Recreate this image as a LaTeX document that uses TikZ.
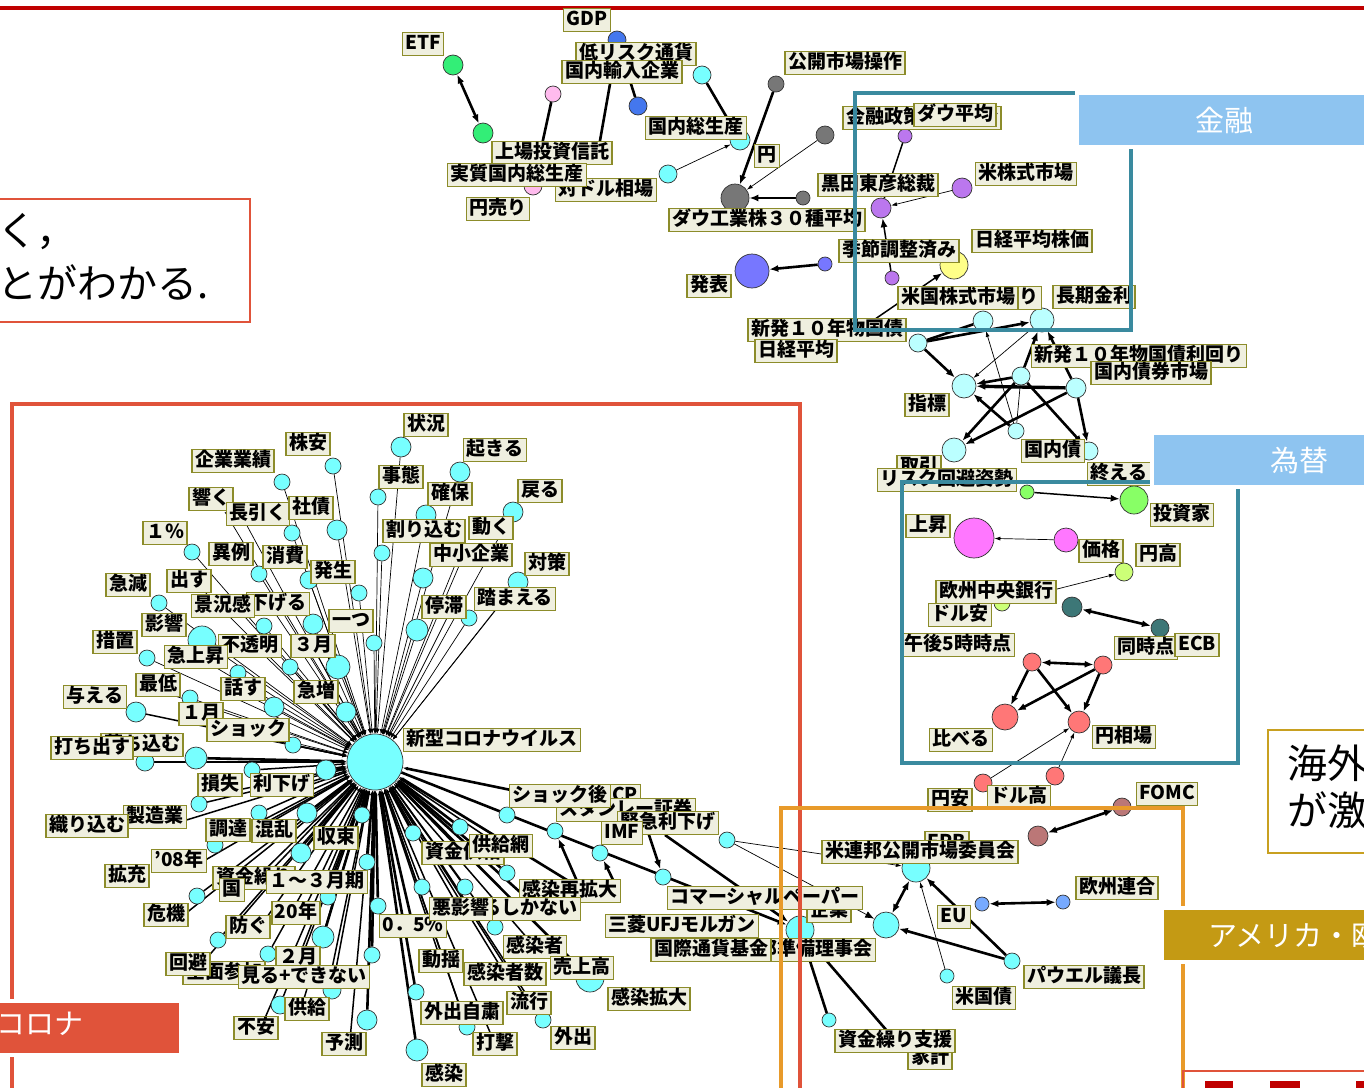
\documentclass[tikz,border=0pt]{standalone}
\usepackage{fontspec}
\setmainfont{Noto Sans CJK JP}
\usetikzlibrary{arrows.meta,backgrounds}
\definecolor{labbg}{HTML}{EFEFDF}
\definecolor{labbd}{HTML}{8C8C2A}
\definecolor{ndl}{HTML}{333333}
\definecolor{cyA}{HTML}{77FFFF}
\definecolor{cyL}{HTML}{BBFFFF}
\definecolor{grN}{HTML}{33EE77}
\definecolor{pkN}{HTML}{FFBBEE}
\definecolor{blN}{HTML}{4477EE}
\definecolor{gyN}{HTML}{777777}
\definecolor{puN}{HTML}{BB77EE}
\definecolor{yeN}{HTML}{FFFF88}
\definecolor{bpN}{HTML}{7777FF}
\definecolor{lgN}{HTML}{88FF66}
\definecolor{mgN}{HTML}{FF77FF}
\definecolor{ygN}{HTML}{CCFF77}
\definecolor{tlN}{HTML}{3D7777}
\definecolor{saN}{HTML}{FF7777}
\definecolor{brN}{HTML}{BB7777}
\definecolor{euN}{HTML}{77AAFF}
\definecolor{corona}{HTML}{E0533A}
\definecolor{fin}{HTML}{3A8A9F}
\definecolor{finlab}{HTML}{8EC4F0}
\definecolor{usa}{HTML}{E89A2A}
\definecolor{usalab}{HTML}{C49A14}
\definecolor{goldb}{HTML}{C8A020}
\definecolor{topred}{HTML}{C00000}
\newcommand\labfont{\fontsize{19}{19}\selectfont\bfseries}
\newcommand\bigfont{\fontsize{40}{40}\selectfont}
\newcommand\tagfont{\fontsize{29}{29}\selectfont}
\tikzset{
 lab/.style={fill=labbg, draw=labbd, line width=1.2pt, font=\labfont, inner xsep=3pt, inner ysep=2pt, text height=15pt, text depth=4pt},
 nd/.style={circle, draw=ndl, line width=0.7pt, inner sep=0pt},
 ncy/.style={nd, fill=cyA, minimum size=#1},
 nlc/.style={nd, fill=cyL, minimum size=#1},
 ngr/.style={nd, fill=grN, minimum size=#1},
 npk/.style={nd, fill=pkN, minimum size=#1},
 nbl/.style={nd, fill=blN, minimum size=#1},
 ngy/.style={nd, fill=gyN, minimum size=#1},
 npu/.style={nd, fill=puN, minimum size=#1},
 nye/.style={nd, fill=yeN, minimum size=#1},
 nbp/.style={nd, fill=bpN, minimum size=#1},
 nlg/.style={nd, fill=lgN, minimum size=#1},
 nmg/.style={nd, fill=mgN, minimum size=#1},
 nyg/.style={nd, fill=ygN, minimum size=#1},
 ntl/.style={nd, fill=tlN, minimum size=#1},
 nsa/.style={nd, fill=saN, minimum size=#1},
 nbr/.style={nd, fill=brN, minimum size=#1},
 neu/.style={nd, fill=euN, minimum size=#1},
 thn/.style={line width=0.7pt},
 med/.style={line width=1.5pt},
 thk/.style={line width=2.6pt},
 ahead/.style={-{Latex[length=9pt,width=7pt]}},
 bihead/.style={{Latex[length=9pt,width=7pt]}-{Latex[length=9pt,width=7pt]}},
 thead/.style={-{Latex[length=6pt,width=4pt]}},
 sarr/.style={-{Latex[length=5pt,width=4pt]}},
 tagbox/.style={draw=white, line width=4pt, minimum width=294pt, minimum height=54pt, anchor=north west, inner sep=0pt, font=\tagfont, text=white},
}
\begin{document}
\begin{tikzpicture}[x=1pt,y=-1pt]
\useasboundingbox (0,0) rectangle (1364,1087);
\clip (0,0) rectangle (1364,1087);
\begin{scope}[on background layer]
\fill[white] (0,0) rectangle (1364,1087);
\end{scope}
\draw[topred, line width=4pt] (0,8) -- (1364,8);
% top-left text box
\draw[corona, line width=2pt] (-5,199) rectangle (250,322);
\node[anchor=west, font=\bigfont, inner sep=0pt] (txA) at (-3,232) {く，};
\node[anchor=west, font=\bigfont, inner sep=0pt] (txB) at (-3,282) {とがわかる.};

% ---------- top cluster nodes ----------
\node[ngr=20pt] (tEtf) at (453,65) {};
\node[ngr=20pt] (tG2) at (483,133) {};
\node[npk=16pt] (tP1) at (553,94) {};
\node[npk=18pt] (tP2) at (533,186) {};
\node[nbl=18pt] (tB1) at (617,40) {};
\node[nbl=18pt] (tB2) at (638,106) {};
\node[ncy=18pt] (tC1) at (702,75) {};
\node[ncy=20pt] (tC2) at (740,140) {};
\node[ncy=18pt] (tC3) at (668,174) {};
\node[ngy=16pt] (g1) at (776,84) {};
\node[ngy=18pt] (g2) at (825,135) {};
\node[ngy=14pt] (g3) at (803,198) {};
\node[ngy=28pt] (gB) at (735,198) {};
\node[npu=14pt] (pu1) at (905,136) {};
\node[npu=20pt] (pu2) at (881,208) {};
\node[npu=20pt] (pu3) at (962,188) {};
\node[npu=14pt] (pu4) at (892,278) {};
\node[nye=28pt] (y1) at (954,265) {};
\node[nbp=34pt] (bp1) at (752,271) {};
\node[nbp=14pt] (bp2) at (825,264) {};
\coordinate (h1) at (610,84);
\coordinate (h2) at (598,152);
\coordinate (hS) at (862,328);
% light cyan cluster
\node[nlc=18pt] (lA) at (918,343) {};
\node[nlc=20pt] (lB) at (983,321) {};
\node[nlc=24pt] (lC) at (1042,320) {};
\node[nlc=24pt] (lD) at (964,386) {};
\node[nlc=18pt] (lE) at (1021,376) {};
\node[nlc=20pt] (lF) at (1076,388) {};
\node[nlc=16pt] (lG) at (1016,431) {};
\node[nlc=24pt] (lH) at (954,450) {};
\node[nlc=18pt] (lI) at (1089,451) {};
% exchange cluster
\node[nlg=14pt] (lg1) at (1027,492) {};
\node[nlg=28pt] (lg2) at (1134,500) {};
\node[nmg=24pt] (m1) at (1066,540) {};
\node[nmg=40pt] (m2) at (974,538) {};
\node[nyg=18pt] (yg1) at (1124,572) {};
\node[nyg=16pt] (yg2) at (1002,603) {};
\node[ntl=20pt] (tl1) at (1072,607) {};
\node[ntl=18pt] (tl2) at (1160,628) {};
\node[nsa=18pt] (sP1) at (1032,662) {};
\node[nsa=18pt] (sP2) at (1103,665) {};
\node[nsa=26pt] (sP3) at (1005,717) {};
\node[nsa=22pt] (sP4) at (1079,722) {};
\node[nsa=18pt] (s5) at (983,783) {};
\node[nsa=18pt] (s6) at (1055,776) {};
\node[nbr=18pt] (br1) at (1122,807) {};
\node[nbr=20pt] (br2) at (1038,836) {};
% america cluster
\node[ncy=28pt] (U1) at (916,868) {};
\node[ncy=26pt] (U2) at (886,925) {};
\node[neu=14pt] (eu1) at (982,904) {};
\node[neu=14pt] (eu2) at (1063,902) {};
\node[ncy=16pt] (pw) at (1012,961) {};
\node[ncy=14pt] (us) at (947,976) {};
\node[ncy=28pt] (ki) at (800,930) {};
\node[ncy=14pt] (sk) at (829,1020) {};
\node[ncy=16pt] (c69) at (727,840) {};
\coordinate (hKakei) at (888,1032);
\coordinate (hImf) at (665,835);
\coordinate (hSai) at (580,888);
\coordinate (hSai2) at (617,888);
\coordinate (hImf2) at (648,832);

% ---------- corona cluster nodes ----------
\node[ncy=56pt] (Cn) at (375,762) {};
\foreach \n/\x/\y/\d in {c1/333/466/16, c2/282/482/16, c3/337/530/20, c4/292/533/16, c5/192/552/16,
 c6/259/574/16, c7/309/580/18, c8/359/593/16, c9/159/603/16, c10/313/624/20, c11/264/626/16,
 c12/202/640/28, c13/374/643/16, c14/147/658/16, c15/290/667/16, c16/338/667/24, c17/238/673/16,
 c18/190/698/16, c19/136/712/20, c20/274/707/20, c21/346/712/20, c22/293/745/16, c23/145/762/18,
 c24/196/758/22, c25/252/770/16, c26/326/770/20, c27/199/804/16, c28/259/813/16, c29/307/813/20,
 c30/362/815/16, c31/215/845/16, c32/301/853/20, c33/367/862/16, c34/197/896/16, c35/328/897/16,
 c36/378/906/16, c37/323/937/22, c38/218/940/16, c39/268/954/16, c40/372/955/16, c41/280/1005/18,
 c42/332/990/18, c43/367/1020/20, c44/417/1050/22, c45/416/992/16, c46/467/1027/16, c47/413/833/16,
 c48/460/827/16, c49/507/815/16, c50/555/831/16, c51/600/853/16, c52/663/877/16, c53/507/873/16,
 c54/422/887/16, c55/465/887/16, c56/495/927/16, c57/590/978/28, c58/543/1020/16,
 c59/401/447/20, c60/460/472/20, c61/378/497/16, c62/426/515/20, c63/513/512/20, c64/382/553/16,
 c65/423/578/20, c66/518/582/20, c67/469/618/16, c68/417/630/22}
 {\node[ncy=\d pt] (\n) at (\x,\y) {};}
\foreach \n/\x/\y in {k1/225/512, k2/245/522, k3/205/592, k4/245/617, k5/275/613, k6/265/656,
 k7/215/667, k8/175/696, k9/255/699, k10/215/724, k11/265/740, k12/325/701, k13/318/656,
 k14/455/565, k15/468/545, k16/448/616, k17/500/604, k18/228/792, k19/290/792, k20/180/822,
 k21/238/838, k22/285/838, k23/345/843, k24/195/866, k25/262/880, k26/238/896, k27/330/886,
 k28/180/918, k29/300/918, k30/258/930, k31/200/966, k32/300/962, k33/330/978, k34/300/1012,
 k35/262/1025, k36/350/1040, k37/545/797, k38/500/846, k39/463/853, k40/580/888, k41/540/910,
 k42/460/910, k43/535/947, k44/505/974, k45/529/1003, k46/462/1013, k47/495/1044, k48/441/961,
 k50/413/926}
 {\coordinate (\n) at (\x,\y);}

% ---------- edges ----------
\begin{scope}[on background layer]
\draw[thk, bihead] (tEtf) -- (tG2);
\draw[thk] (tP1) -- (tP2);
\draw[thk] (tB1) -- (tB2);
\draw[thk] (h1) -- (h2);
\draw[thk] (tC1) -- (tC2);
\draw[thn, thead] (tC3) -- (tC2);
\draw[thk, ahead] (g1) -- (gB);
\draw[thn, thead] (g2) -- (gB);
\draw[thk, ahead] (g3) -- (gB);
\draw[med] (pu1) -- (pu2);
\draw[thn, thead] (pu3) -- (pu2);
\draw[med, ahead] (pu4) -- (pu2);
\draw[thk, ahead] (bp2) -- (bp1);
\draw[med, ahead] (hS) -- (y1);
% light cyan
\draw[thk] (lA) -- (lB);
\draw[thk, ahead] (lA) -- (lC);
\draw[thk, ahead] (lA) -- (lD);
\draw[thn, thead] (lG) -- (lB);
\draw[thn] (lG) -- (lE);
\draw[thn, thead] (lC) -- (lD);
\draw[thk, ahead] (lE) -- (lC);
\draw[thk, ahead] (lF) -- (lC);
\draw[line width=3.4pt, ahead] (lF) -- (lD);
\draw[thk, ahead] (lE) -- (lD);
\draw[thk, ahead] (lE) -- (lH);
\draw[thk, ahead] (lF) -- (lH);
\draw[thk, ahead] (lG) -- (lD);
\draw[thk, ahead] (lE) -- (lI);
\draw[thk, ahead] (lF) -- (lI);
% exchange
\draw[med, ahead] (lg1) -- (lg2);
\draw[thn, thead] (m1) -- (m2);
\draw[thn, thead] (yg2) -- (yg1);
\draw[thk, bihead] (tl1) -- (tl2);
\draw[thk, bihead] (sP1) -- (sP2);
\draw[thk, ahead] (sP1) -- (sP3);
\draw[thk, ahead] (sP1) -- (sP4);
\draw[thk, ahead] (sP2) -- (sP3);
\draw[thk, ahead] (sP2) -- (sP4);
\draw[thn, thead] (s5) -- (sP4);
\draw[thn, thead] (s6) -- (sP4);
\draw[thk, bihead] (br1) -- (br2);
% america
\draw[thk, bihead] (eu1) -- (eu2);
\draw[thk, ahead] (pw) -- (U1);
\draw[thk, ahead] (pw) -- (U2);
\draw[thn, thead] (us) -- (U1);
\draw[thk, bihead] (U2) -- (U1);
\draw[thn, thead] (c69) -- (U1);
\draw[thn, ahead] (c69) -- (U2);
\draw[thk] (ki) -- (sk);
\draw[thk] (ki) -- (hKakei);
\draw[thk, ahead] (Cn) -- (ki);
\draw[thk, ahead] (hImf) -- (ki);
\draw[thk, ahead] (hSai) -- (c50);
\draw[thk, ahead] (hSai2) -- (c51);
\draw[thk, ahead] (hImf2) -- (c52);
% corona spokes
\foreach \n in {c1,c2,c3,c4,c5,c6,c7,c8,c9,c10,c11,c12,c13,c14,c15,c16,c17,c18,c20,c21,
 c59,c60,c61,c62,c63,c64,c65,c66,c67,c68,k1,k2,k3,k4,k5,k6,k7,k8,k9,k10,k11,k12,k13,k14,k15,k16,k17}
 {\draw[thn, sarr] (\n) -- (Cn);}
\foreach \n in {c19,c22,c25,c27,c28,c31,c34,c35,c38,c39,c41,c42,c46,c54,c55,c56,c58,
 k18,k19,k20,k21,k22,k23,k24,k25,k26,k27,k28,k29,k30,k31,k32,k33,k34,k35,k36,k38,k39,k42,k43,k44,k45,k46,k47,k48}
 {\draw[med, sarr] (\n) -- (Cn);}
\foreach \n in {c23,c24,c26,c29,c30,c32,c33,c36,c37,c40,c43,c44,c45,c47,c48,c53,c57,k37,k40,k41,k50}
 {\draw[thk, sarr] (\n) -- (Cn);}
\end{scope}

% ---------- labels: top ----------
\node[lab] (L01) at (423,44) {ETF};
\node[lab] (L02) at (587,20) {GDP};
\node[lab] (L03) at (636,54) {低リスク通貨};
\node[lab] (L04) at (622,72) {国内輸入企業};
\node[lab] (L05) at (696,128) {国内総生産};
\node[lab] (L06) at (606,190) {対ドル相場};
\node[lab] (L07) at (552,153) {上場投資信託};
\node[lab] (L08) at (517,175) {実質国内総生産};
\node[lab] (L09) at (498,209) {円売り};
\node[lab] (L10) at (767,156) {円};
\node[lab] (L11) at (845,63) {公開市場操作};
\node[lab] (L12) at (922,118) {金融政策決定会合};
\node[lab] (L13) at (955,115) {ダウ平均};
\node[lab] (L14) at (878,185) {黒田東彦総裁};
\node[lab] (L15) at (1026,174) {米株式市場};
\node[lab] (L16) at (767,220) {ダウ工業株３０種平均};
\node[lab] (L17) at (899,251) {季節調整済み};
\node[lab] (L18) at (1032,241) {日経平均株価};
\node[lab] (L19) at (709,286) {発表};
\node[lab] (L20) at (1010,298) {利回り};
\node[lab] (L21) at (958,298) {米国株式市場};
\node[lab] (L22) at (1094,297) {長期金利};
\node[lab] (L23) at (827,330) {新発１０年物国債};
\node[lab] (L24) at (796,351) {日経平均};
\node[lab] (L25) at (1139,356) {新発１０年物国債利回り};
\node[lab] (L26) at (1151,373) {国内債券市場};
\node[lab] (L27) at (927,405) {指標};
\node[lab] (L28) at (1053,451) {国内債};
\node[lab] (L29) at (919,467) {取引};
\node[lab] (L30) at (947,480) {リスク回避姿勢};
\node[lab] (L31) at (1119,474) {終える};
% exchange labels
\node[lab] (L32) at (1182,515) {投資家};
\node[lab] (L33) at (928,526) {上昇};
\node[lab] (L34) at (1101,551) {価格};
\node[lab] (L35) at (1158,555) {円高};
\node[lab] (L36) at (996,592) {欧州中央銀行};
\node[lab] (L37) at (960,615) {ドル安};
\node[lab] (L38) at (1146,648) {同時点};
\node[lab] (L39) at (1197,645) {ECB};
\node[lab] (L40) at (958,645) {午後5時時点};
\node[lab] (L41) at (961,740) {比べる};
\node[lab] (L42) at (1124,737) {円相場};
\node[lab] (L43) at (950,800) {円安};
\node[lab] (L44) at (1019,797) {ドル高};
\node[lab] (L45) at (1167,794) {FOMC};
% america labels
\node[lab] (L46) at (947,843) {FRB};
\node[lab] (L47) at (920,852) {米連邦公開市場委員会};
\node[lab] (L48) at (829,911) {企業};
\node[lab] (L49) at (765,898) {コマーシャルペーパー};
\node[lab] (L50) at (682,926) {三菱UFJモルガン};
\node[lab] (L51) at (806,950) {連邦準備理事会};
\node[lab] (L52) at (711,950) {国際通貨基金};
\node[lab] (L53) at (1117,888) {欧州連合};
\node[lab] (L54) at (954,917) {EU};
\node[lab] (L55) at (1084,977) {パウエル議長};
\node[lab] (L56) at (984,998) {米国債};
\node[lab] (L57) at (930,1058) {家計};
\node[lab] (L58) at (895,1041) {資金繰り支援};
% corona labels
\node[lab] (M01) at (308,444) {株安};
\node[lab] (M02) at (426,425) {状況};
\node[lab] (M03) at (495,450) {起きる};
\node[lab] (M04) at (233,461) {企業業績};
\node[lab] (M05) at (401,477) {事態};
\node[lab] (M06) at (540,491) {戻る};
\node[lab] (M07) at (450,494) {確保};
\node[lab] (M08) at (211,499) {響く};
\node[lab] (M09) at (258,514) {長引く};
\node[lab] (M10) at (311,508) {社債};
\node[lab] (M11) at (424,531) {割り込む};
\node[lab] (M12) at (491,528) {動く};
\node[lab] (M13) at (165,533) {１％};
\node[lab] (M14) at (231,554) {異例};
\node[lab] (M15) at (285,557) {消費};
\node[lab] (M16) at (471,555) {中小企業};
\node[lab] (M17) at (547,564) {対策};
\node[lab] (M18) at (333,572) {発生};
\node[lab] (M19) at (189,581) {出す};
\node[lab] (M20) at (128,585) {急減};
\node[lab] (M21) at (278,604) {下げる};
\node[lab] (M22) at (223,606) {景況感};
\node[lab] (M23) at (515,599) {踏まえる};
\node[lab] (M24) at (444,607) {停滞};
\node[lab] (M25) at (351,621) {一つ};
\node[lab] (M26) at (164,625) {影響};
\node[lab] (M27) at (115,642) {措置};
\node[lab] (M28) at (250,646) {不透明};
\node[lab] (M29) at (313,646) {３月};
\node[lab] (M30) at (196,657) {急上昇};
\node[lab] (M31) at (158,685) {最低};
\node[lab] (M32) at (243,689) {話す};
\node[lab] (M33) at (316,692) {急増};
\node[lab] (M34) at (95,697) {与える};
\node[lab] (M35) at (201,714) {１月};
\node[lab] (M36) at (248,730) {ショック};
\node[lab] (M37) at (492,740) {新型コロナウイルス};
\node[lab] (M38) at (142,745) {落ち込む};
\node[lab] (M39) at (92,748) {打ち出す};
\node[lab] (M40) at (220,785) {損失};
\node[lab] (M41) at (282,785) {利下げ};
\node[lab] (M42) at (155,817) {製造業};
\node[lab] (M43) at (87,826) {織り込む};
\node[lab] (M44) at (228,830) {調達};
\node[lab] (M45) at (274,831) {混乱};
\node[lab] (M46) at (336,838) {収束};
\node[lab] (M47) at (179,861) {’08年};
\node[lab] (M48) at (127,876) {拡充};
\node[lab] (M49) at (254,878) {資金繰り};
\node[lab] (M50) at (232,890) {国};
\node[lab] (M51) at (317,882) {１～３月期};
\node[lab] (M52) at (166,915) {危機};
\node[lab] (M53) at (296,913) {20年};
\node[lab] (M54) at (248,927) {防ぐ};
\node[lab] (M55) at (413,926) {0．5\%};
\node[lab] (M56) at (298,958) {２月};
\node[lab] (M57) at (224,973) {全面参加};
\node[lab] (M58) at (188,964) {回避};
\node[lab] (M59) at (304,977) {見る+できない};
\node[lab] (M60) at (307,1009) {供給};
\node[lab] (M61) at (256,1028) {不安};
\node[lab] (M62) at (344,1044) {予測};
\node[lab] (M63) at (444,1075) {感染};
\node[lab] (M64) at (463,853) {資金供給};
\node[lab] (M65) at (501,846) {供給網};
\node[lab] (M66) at (625,796) {CP};
\node[lab] (M67) at (626,810) {スタンレー証券};
\node[lab] (M68) at (560,796) {ショック後};
\node[lab] (M69) at (668,823) {緊急利下げ};
\node[lab] (M70) at (622,833) {IMF};
\node[lab] (M71) at (570,891) {感染再拡大};
\node[lab] (M72) at (511,909) {続けるしかない};
\node[lab] (M73) at (461,909) {悪影響};
\node[lab] (M74) at (441,961) {動揺};
\node[lab] (M75) at (535,947) {感染者};
\node[lab] (M76) at (505,974) {感染者数};
\node[lab] (M77) at (582,968) {売上高};
\node[lab] (M78) at (529,1003) {流行};
\node[lab] (M79) at (462,1013) {外出自粛};
\node[lab] (M80) at (495,1044) {打撃};
\node[lab] (M81) at (573,1038) {外出};
\node[lab] (M82) at (649,999) {感染拡大};

% ---------- frames ----------
\draw[corona, line width=4pt] (12,404) rectangle (800,1120);
\draw[fin, line width=4pt] (855,93) rectangle (1131,330);
\draw[fin, line width=4pt] (902,482) rectangle (1238,763);
\draw[usa, line width=4pt] (781,808) rectangle (1183,1120);
\draw[goldb, line width=2.5pt] (1268,730) rectangle (1400,853);
\node[anchor=west, font=\bigfont, inner sep=0pt] (txC) at (1287,763) {海外};
\node[anchor=west, font=\bigfont, inner sep=0pt] (txD) at (1287,810) {が激};
\draw[corona, line width=2.5pt] (1183,1071) rectangle (1400,1120);
\fill[topred] (1205,1081) rectangle (1233,1090);
\fill[topred] (1270,1081) rectangle (1300,1090);
\fill[topred] (1356,1081) rectangle (1370,1090);
\node[tagbox, fill=finlab] (T1) at (1075,91) {金融};
\node[tagbox, fill=finlab] (T2) at (1150,431) {為替};
\node[tagbox, fill=usalab] (T3) at (1160,906) {アメリカ・欧州};
\node[fill=corona, draw=white, line width=4pt, minimum width=200pt, minimum height=54pt, anchor=north east, inner sep=0pt] (T4) at (183,999) {};
\node[anchor=east, font=\tagfont, text=white, inner sep=0pt] (T4t) at (84,1024) {コロナ};
\end{tikzpicture}
\end{document}
